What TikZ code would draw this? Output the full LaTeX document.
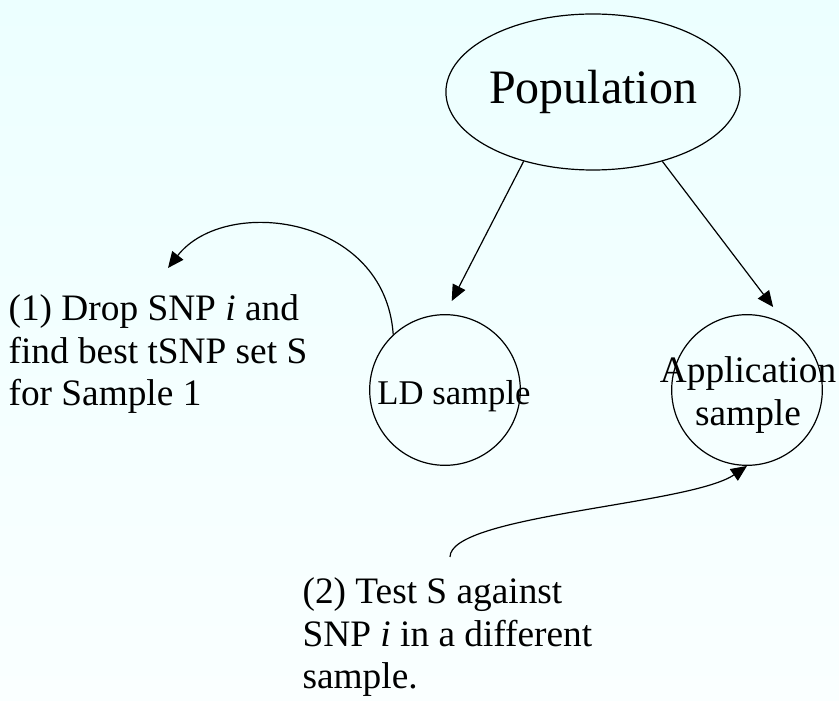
\documentclass[tikz,border=0pt]{standalone}
\usepackage{fontspec}
\setmainfont{Liberation Serif}
\usetikzlibrary{shapes.geometric, arrows.meta}
\definecolor{bgtop}{RGB}{236,255,255}
\definecolor{bgbottom}{RGB}{250,255,255}

\begin{document}
\begin{tikzpicture}[
    x=0.75pt, y=0.75pt,
    >={Triangle[length=12pt, width=10.5pt]},
    line width=0.9pt,
    every node/.style={inner sep=0pt},
    % Big label inside the ellipse
    bigtext/.style={font=\fontsize{36}{43}\selectfont},
    % Plain text notes
    note/.style={font=\fontsize{28}{32}\selectfont, align=left},
    sample/.style={draw, circle, minimum size=113pt},
    popnode/.style={draw, ellipse, minimum width=217.5pt, minimum height=117pt}
]

    % --- Background ---
    \shade[top color=bgtop, bottom color=bgbottom, draw=none] (0,0) rectangle (839,700);
    \useasboundingbox (0,0) rectangle (839,700);

    % --- Nodes ---
    \node[popnode, bigtext] (pop) at (593,608) {Population};
    \node[sample] (ld) at (445,310) {};
    \node[sample] (app) at (747,310) {};

    % Text over the circles
    \node[note, font=\fontsize{26}{32}\selectfont, anchor=base] (ldtext) at (454,295) {LD sample};
    \node[note, align=center] (apptext) at (748,305) {Application\\sample};

    % Notes
    \node[note, anchor=north west] (drop) at (8,406)
        {(1) Drop SNP \textit{i} and\\find best tSNP set S\\for Sample 1};
    \node[note, anchor=north west] (test) at (302,123)
        {(2) Test S against\\SNP \textit{i} in a different\\sample.};

    % --- Connectors ---
    \coordinate (droptip) at (168,432);
    \coordinate (teststart) at (450,143);

    \draw[->, shorten >=11pt] (pop.225) -- (ld.north);
    \draw[->, shorten >=17.5pt] (pop.315) -- (app.58);
    % Curved arrows to and from the notes
    \draw[->] (ld.133) .. controls (385,485) and (225,505) .. (droptip);
    \draw[->] (teststart) .. controls (450,185) and (690,195) .. (app.south);

\end{tikzpicture}
\end{document}
